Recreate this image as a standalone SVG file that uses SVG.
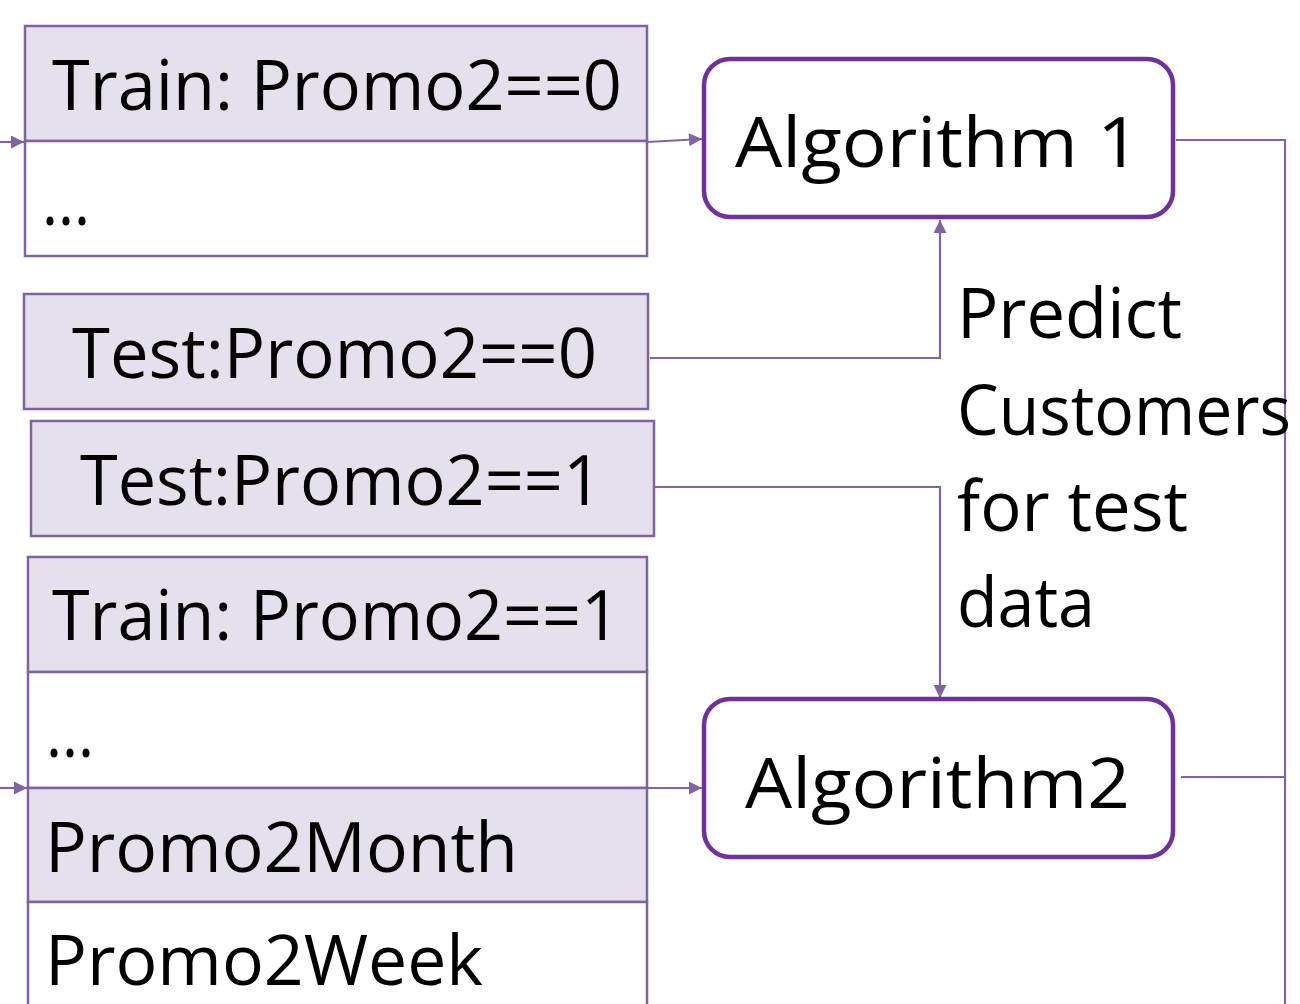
<svg xmlns="http://www.w3.org/2000/svg" width="1300" height="1004" viewBox="0 0 1300 1004">
<style>
.cell{stroke:#8064A2;stroke-width:2.5}
.hd{fill:#E5E0EC}
.wh{fill:#FFFFFF}
.alg{fill:#FFFFFF;stroke:#7030A0;stroke-width:4.5}
.t{font-family:"Open Sans","Noto Sans","Liberation Sans",sans-serif;font-size:70px;fill:#000}
.c{fill:none;stroke:#8064A2;stroke-width:2.2}
</style>
<defs>
<marker id="ahb" viewBox="0 0 10 10" refX="10" refY="5" markerWidth="14" markerHeight="13" markerUnits="userSpaceOnUse" orient="auto">
<path d="M0,0 L10,5 L0,10 z" fill="#8064A2"/>
</marker>
</defs>
<rect width="1300" height="1004" fill="#FFFFFF"/>

<g id="connectors">
<line class="c" x1="0" y1="142" x2="24" y2="142" marker-end="url(#ahb)"/>
<line class="c" x1="647" y1="142" x2="702" y2="139" marker-end="url(#ahb)"/>
<polyline class="c" points="650,358 940,358 940,220" marker-end="url(#ahb)"/>
<polyline class="c" points="650,487 940,487 940,698" marker-end="url(#ahb)"/>
<line class="c" x1="0" y1="788" x2="27" y2="788" marker-end="url(#ahb)"/>
<line class="c" x1="647" y1="788" x2="702" y2="788" marker-end="url(#ahb)"/>
<polyline class="c" points="1176,140 1285,140 1285,1004"/>
<line class="c" x1="1181" y1="777" x2="1285" y2="777"/>
</g>

<g id="train0">
<rect class="cell hd" x="25" y="26" width="622" height="115"/>
<rect class="cell wh" x="25" y="141" width="622" height="115"/>
<text class="t" x="52" y="110" textLength="570" lengthAdjust="spacingAndGlyphs">Train: Promo2==0</text>
<text class="t" x="42" y="225" textLength="48" lengthAdjust="spacingAndGlyphs">...</text>
</g>

<g id="algorithm1">
<rect class="alg" x="704" y="59" width="469" height="158" rx="26"/>
<text class="t" x="735" y="167" textLength="405" lengthAdjust="spacingAndGlyphs" font-size="80">Algorithm 1</text>
</g>

<g id="test0">
<rect class="cell hd" x="24" y="294" width="624" height="115"/>
<text class="t" x="72" y="378" textLength="525" lengthAdjust="spacingAndGlyphs">Test:Promo2==0</text>
</g>

<g id="test1">
<rect class="cell hd" x="31" y="421" width="623" height="115"/>
<text class="t" x="80" y="505" textLength="522" lengthAdjust="spacingAndGlyphs">Test:Promo2==1</text>
</g>

<g id="train1">
<rect class="cell hd" x="28" y="557" width="619" height="115"/>
<rect class="cell wh" x="28" y="672" width="619" height="116"/>
<rect class="cell hd" x="28" y="788" width="619" height="114"/>
<rect class="cell wh" x="28" y="902" width="619" height="110"/>
<text class="t" x="52" y="640" textLength="568" lengthAdjust="spacingAndGlyphs">Train: Promo2==1</text>
<text class="t" x="46" y="757" textLength="48" lengthAdjust="spacingAndGlyphs">...</text>
<text class="t" x="45" y="872" textLength="473" lengthAdjust="spacingAndGlyphs">Promo2Month</text>
<text class="t" x="45" y="985" textLength="438" lengthAdjust="spacingAndGlyphs">Promo2Week</text>
</g>

<g id="algorithm2">
<rect class="alg" x="704" y="699" width="469" height="158" rx="26"/>
<text class="t" x="745" y="808" textLength="385" lengthAdjust="spacingAndGlyphs" font-size="80">Algorithm2</text>
</g>

<g id="label">
<text class="t" x="957" y="338" textLength="225" lengthAdjust="spacingAndGlyphs">Predict</text>
<text class="t" x="957" y="435" textLength="334" lengthAdjust="spacingAndGlyphs">Customers</text>
<text class="t" x="957" y="531" textLength="231" lengthAdjust="spacingAndGlyphs">for test</text>
<text class="t" x="957" y="627" textLength="138" lengthAdjust="spacingAndGlyphs">data</text>
</g>
</svg>
